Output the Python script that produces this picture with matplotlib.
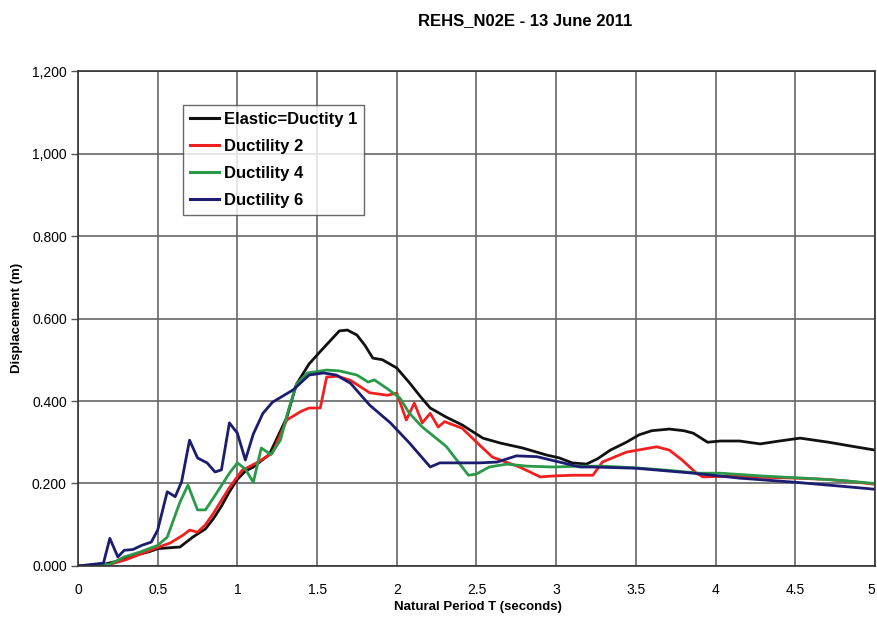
import matplotlib
matplotlib.use("Agg")
import matplotlib.pyplot as plt

plt.rcParams['font.family'] = ['Liberation Sans', 'DejaVu Sans']

title = "REHS_N02E - 13 June 2011"
xlabel = "Natural Period T (seconds)"
ylabel = "Displacement (m)"
x_ticks = [0, 0.5, 1, 1.5, 2, 2.5, 3, 3.5, 4, 4.5, 5]
x_tick_labels = ["0", "0.5", "1", "1.5", "2", "2.5", "3", "3.5", "4", "4.5", "5"]
y_ticks = [0.0, 0.2, 0.4, 0.6, 0.8, 1.0, 1.2]
y_tick_labels = ["0.000", "0.200", "0.400", "0.600", "0.800", "1,000", "1,200"]

names = ["Elastic=Ductity 1", "Ductility 2", "Ductility 4", "Ductility 6"]
colors = ["#111111", "#f02020", "#2a9a4a", "#1c1c70"]

t_elastic = [0, 0.15, 0.25, 0.35, 0.45, 0.5, 0.6, 0.64, 0.72, 0.8, 0.85, 0.9, 0.95, 1.0, 1.05,
             1.1, 1.2, 1.31, 1.37, 1.45, 1.52, 1.58, 1.64, 1.69, 1.75, 1.8, 1.85, 1.91, 2.0,
             2.08, 2.15, 2.21, 2.31, 2.41, 2.54, 2.65, 2.79, 2.94, 3.02, 3.10, 3.19, 3.26,
             3.34, 3.44, 3.52, 3.6, 3.71, 3.8, 3.86, 3.95, 4.03, 4.15, 4.28, 4.40, 4.53,
             4.71, 4.86, 5.0]
d_elastic = [0, 0.003, 0.012, 0.025, 0.035, 0.042, 0.045, 0.046, 0.07, 0.09, 0.115, 0.145,
             0.18, 0.21, 0.23, 0.24, 0.27, 0.36, 0.44, 0.49, 0.52, 0.545, 0.570, 0.572, 0.56,
             0.535, 0.504, 0.50, 0.48, 0.444, 0.41, 0.383, 0.361, 0.342, 0.31, 0.298, 0.286,
             0.269, 0.262, 0.25, 0.247, 0.26, 0.281, 0.30, 0.318, 0.328, 0.332, 0.328, 0.322,
             0.30, 0.303, 0.303, 0.296, 0.303, 0.310, 0.30, 0.29, 0.281]

t_duct2 = [0, 0.2, 0.3, 0.4, 0.5, 0.58, 0.66, 0.70, 0.75, 0.8, 0.85, 0.95, 1.03, 1.12, 1.22,
           1.31, 1.4, 1.45, 1.52, 1.56, 1.63, 1.71, 1.83, 1.94, 2.0, 2.06, 2.11, 2.16, 2.21,
           2.26, 2.30, 2.41, 2.52, 2.60, 2.77, 2.90, 2.97, 3.1, 3.23, 3.29, 3.44, 3.63, 3.71,
           3.79, 3.88, 3.92, 4.1, 4.3, 4.5, 4.7, 4.85, 5.0]
d_duct2 = [0, 0.004, 0.015, 0.03, 0.045, 0.056, 0.075, 0.087, 0.082, 0.10, 0.128, 0.19,
           0.232, 0.25, 0.274, 0.354, 0.375, 0.383, 0.383, 0.458, 0.46, 0.45, 0.42, 0.414,
           0.419, 0.354, 0.395, 0.347, 0.37, 0.337, 0.35, 0.334, 0.293, 0.264, 0.24, 0.216,
           0.218, 0.22, 0.22, 0.252, 0.276, 0.289, 0.281, 0.257, 0.225, 0.216, 0.218, 0.215,
           0.213, 0.21, 0.205, 0.198]

t_duct4 = [0, 0.2, 0.29, 0.39, 0.5, 0.56, 0.64, 0.69, 0.75, 0.80, 0.87, 0.95, 1.0, 1.05,
           1.10, 1.15, 1.21, 1.27, 1.32, 1.37, 1.44, 1.56, 1.64, 1.75, 1.82, 1.86, 1.94, 2.02,
           2.08, 2.16, 2.31, 2.45, 2.50, 2.58, 2.69, 2.82, 2.98, 3.15, 3.3, 3.5, 3.7, 3.9,
           4.03, 4.3, 4.6, 4.8, 5.0]
d_duct4 = [0, 0.004, 0.022, 0.034, 0.05, 0.07, 0.155, 0.196, 0.136, 0.136, 0.177, 0.225,
           0.25, 0.235, 0.203, 0.286, 0.27, 0.305, 0.378, 0.44, 0.468, 0.475, 0.473, 0.463,
           0.446, 0.451, 0.43, 0.407, 0.37, 0.337, 0.29, 0.22, 0.223, 0.24, 0.247, 0.242,
           0.24, 0.242, 0.242, 0.238, 0.232, 0.225, 0.225, 0.218, 0.212, 0.207, 0.20]

t_duct6 = [0, 0.16, 0.20, 0.25, 0.29, 0.345, 0.40, 0.46, 0.50, 0.56, 0.61, 0.65, 0.70, 0.75,
           0.81, 0.86, 0.90, 0.95, 1.0, 1.05, 1.10, 1.16, 1.22, 1.35, 1.45, 1.54, 1.62, 1.71,
           1.83, 1.96, 2.08, 2.21, 2.27, 2.52, 2.63, 2.75, 2.88, 3.02, 3.15, 3.23, 3.50, 3.86,
           4.15, 4.5, 4.8, 5.0]
d_duct6 = [0, 0.007, 0.067, 0.022, 0.038, 0.04, 0.05, 0.058, 0.087, 0.18, 0.168, 0.204,
           0.305, 0.262, 0.25, 0.228, 0.233, 0.347, 0.322, 0.257, 0.32, 0.37, 0.397, 0.427,
           0.463, 0.468, 0.463, 0.443, 0.39, 0.347, 0.298, 0.24, 0.25, 0.25, 0.252, 0.267,
           0.265, 0.252, 0.24, 0.24, 0.237, 0.225, 0.213, 0.203, 0.193, 0.186]

series = [(t_elastic, d_elastic), (t_duct2, d_duct2), (t_duct4, d_duct4), (t_duct6, d_duct6)]

fig = plt.figure(figsize=(8.77, 6.23), dpi=100)
ax = fig.add_axes([0.0889, 0.0915, 0.9088, 0.7945])

for (t, d), name, c in zip(series, names, colors):
    ax.plot(t, d, color=c, lw=2.0, label=name, solid_joinstyle='round')

ax.set_xlim(0, 5)
ax.set_ylim(0, 1.2)
ax.set_xticks(x_ticks)
ax.set_xticklabels(x_tick_labels)
ax.set_yticks(y_ticks)
ax.set_yticklabels(y_tick_labels)
ax.grid(True, color="#666666", lw=1.2)
ax.set_axisbelow(True)
ax.tick_params(axis='y', length=5, width=1, color="#555555", labelsize=10, pad=3)
ax.tick_params(axis='x', length=0, labelsize=10, pad=12)
xt = ax.get_xticklabels()
xt[-1].set_horizontalalignment('right')
for s in ax.spines.values():
    s.set_color("#333333")
    s.set_linewidth(1.2)

fig.text(0.599, 0.967, title, ha='center', va='center', fontsize=12, fontweight='bold')
fig.text(0.545, 0.026, xlabel, ha='center', va='center', fontsize=9.5, fontweight='bold')
fig.text(0.019, 0.49, ylabel, ha='center', va='center', rotation=90, fontsize=9.5, fontweight='bold')

leg = ax.legend(loc='upper left', bbox_to_anchor=(0.132, 0.931), frameon=True, fancybox=False,
                edgecolor="#444444", prop={'weight': 'bold', 'size': 12}, handlelength=1.75,
                handletextpad=0.3, borderpad=0.4, labelspacing=0.72, borderaxespad=0)
leg.get_frame().set_linewidth(1.0)
for line in leg.get_lines():
    line.set_linewidth(2.2)

fig.savefig("out.png", dpi=100)
